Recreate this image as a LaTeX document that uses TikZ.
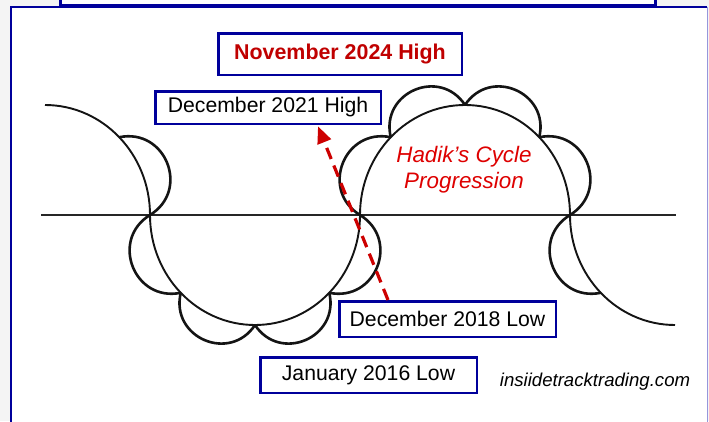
\documentclass[tikz,border=0pt]{standalone}
\usepackage{fontspec}
\setmainfont{Liberation Sans}
\usetikzlibrary{calc,arrows.meta}
\definecolor{frameblue}{RGB}{0,0,155}
\definecolor{lavender}{RGB}{150,150,220}
\definecolor{darkred}{RGB}{192,0,0}
\definecolor{cyclered}{RGB}{222,0,0}
\definecolor{arrowred}{RGB}{205,0,0}
\definecolor{pagegray}{RGB}{244,244,244}
\tikzset{
    datebox/.style={draw=frameblue, line width=2.5pt, fill=white, inner sep=0pt,
        font=\fontsize{21.2}{24}\selectfont},
    bigarc/.style={draw=black!92, line width=1.9pt},
    scallop/.style={draw=black!92, line width=2.6pt},
}
\begin{document}
\begin{tikzpicture}[x=1pt,y=1pt]
        \useasboundingbox (0,-206) rectangle (709,215);
        \fill[pagegray] (0,-206) rectangle (709,215);

        % frame and top box
        \fill[white] (11,-215) rectangle (707.5,208);
        \fill[white] (60.5,208) rectangle (655.5,225);
        \draw[frameblue, line width=2.4pt] (60.5,225) -- (60.5,210) -- (655.5,210) -- (655.5,225);
        \draw[frameblue, line width=2.4pt] (11,-215) -- (11,208) -- (706.5,208);
        \draw[lavender, line width=1.5pt] (707.5,208) -- (707.5,-215);

        % axis
        \draw[black!85, line width=1.6pt] (41,0) -- (676,0);

        % big cycles
        \draw[bigarc] (45,110) arc[start angle=90, end angle=0, x radius=105, y radius=110];
        \draw[bigarc] (150,0) arc[start angle=180, end angle=360, x radius=105, y radius=110];
        \draw[bigarc] (360,0) arc[start angle=180, end angle=0, x radius=105, y radius=110];
        \draw[bigarc] (570,0) arc[start angle=180, end angle=270, x radius=105, y radius=110];

        % small cycles
        \foreach \cx/\a in {45/0, 255/180, 255/225, 255/270, 255/315, 465/0, 465/45, 465/90, 465/135, 675/180} {
                \draw[scallop] ([shift={(\a:105 and 110)}]\cx,0) to[bend right=80, looseness=1.45] ([shift={(\a+45:105 and 110)}]\cx,0);
        }

        % labels
        \node[datebox, minimum width=243.5pt, minimum height=41.5pt, text=darkred,
              font=\bfseries\fontsize{21.4}{24}\selectfont] (nov24) at (340,161) {November 2024 High};
        \node[datebox, minimum width=225.5pt, minimum height=32.5pt] (dec21) at (268,107.5) {December 2021 High};
        \node[datebox, minimum width=216.5pt, minimum height=35.5pt] (dec18) at (447.5,-104) {December 2018 Low};
        \node[datebox, minimum width=216.5pt, minimum height=35.5pt] (jan16) at (368.5,-160) {January 2016 Low};
        \node[text=cyclered, align=center, font=\itshape\fontsize{22.4}{26}\selectfont] (hadik) at (464,45) {Hadik’s Cycle\\Progression};
        \node[font=\itshape\fontsize{18.6}{22}\selectfont] (site) at (595,-166.8) {insiidetracktrading.com};

        \draw[arrowred, line width=3.2pt, dash pattern=on 12pt off 7pt, -{Triangle[length=17pt, width=14pt]}]
                ($(dec18.north west)+(50,0)$) -- ($(dec21.south west)+(164,-1.25)$);

\end{tikzpicture}
\end{document}
